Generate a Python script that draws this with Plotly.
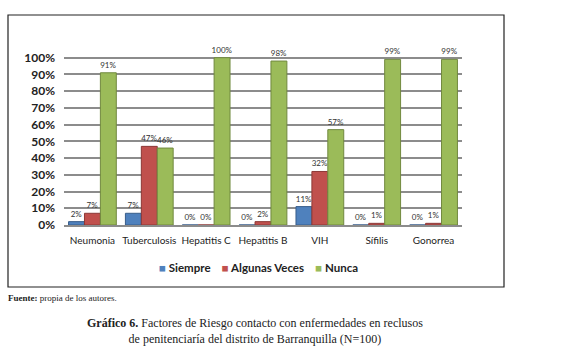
import plotly.graph_objects as go

categories = ["Neumonia", "Tuberculosis", "Hepatitis C", "Hepatitis B", "VIH", "Sífilis", "Gonorrea"]
siempre = [2, 7, 0, 0, 11, 0, 0]
algunas = [7, 47, 0, 2, 32, 1, 1]
nunca = [91, 46, 100, 98, 57, 99, 99]
tick_vals = [0, 10, 20, 30, 40, 50, 60, 70, 80, 90, 100]
tick_text = [f"{v}%" for v in tick_vals]

series = [
    ("Siempre", siempre, "#4F81BD", "#385D8A"),
    ("Algunas Veces", algunas, "#C0504D", "#8C3836"),
    ("Nunca", nunca, "#9BBB59", "#71893F"),
]

fig = go.Figure()
for name, vals, col, edge in series:
    fig.add_trace(go.Bar(
        x=categories, y=vals, name=name,
        marker=dict(color=col, line=dict(color=edge, width=1)),
        text=[f"{v}%" for v in vals], textposition="outside", constraintext="none",
        textfont=dict(size=8, color="#333333", family="Lato"),
        cliponaxis=False, showlegend=False,
    ))

W, H = 566, 355
L, R, T, B = 64, 104, 46, 130
pw = W - L - R
ph = H - T - B

def px(x):
    return (x - L) / pw

def py(y):
    return (H - B - y) / ph

fig.update_layout(
    width=W, height=H,
    margin=dict(l=L, r=R, t=T, b=B, autoexpand=False),
    paper_bgcolor="white", plot_bgcolor="white",
    barmode="group", bargap=0.16, bargroupgap=0.0,
    font=dict(family="Lato", color="#222222"),
    xaxis=dict(showgrid=False, showline=True, linecolor="#8c8c8c", linewidth=1.5,
               tickfont=dict(size=10, family="Lato", color="#222222"), ticks="",
               ticklabelstandoff=5),
    yaxis=dict(range=[0, 107], tickvals=tick_vals, ticktext=tick_text,
               showgrid=True, gridcolor="#8c8c8c", gridwidth=1.5,
               zeroline=False, showline=False,
               tickfont=dict(size=12, family="Lato", color="#222222", weight="bold"),
               ticklabelstandoff=8),
    showlegend=False,
)

legend_text = "&nbsp;&nbsp;&nbsp;&nbsp;".join(
    f"<span style='color:{col}'>■</span> {name}" for name, _, col, _ in series
)
fig.add_annotation(xref="paper", yref="paper", x=px(258), y=py(267), xanchor="center", yanchor="middle",
                   text=legend_text, showarrow=False,
                   font=dict(size=11.5, family="Lato", color="#222222", weight="bold"))

fig.add_shape(type="rect", xref="paper", yref="paper",
              x0=px(8), x1=px(504), y0=py(287), y1=py(15),
              line=dict(color="#222222", width=1.2), fillcolor="rgba(0,0,0,0)", layer="below")

fig.add_annotation(xref="paper", yref="paper", x=px(6), y=py(298), xanchor="left", yanchor="middle",
                   text="<b>Fuente:</b> propia de los autores.", showarrow=False,
                   font=dict(size=9, family="Liberation Serif", color="#222222"))
fig.add_annotation(xref="paper", yref="paper", x=px(255), y=py(331), xanchor="center", yanchor="middle",
                   text="<b>Gráfico 6.</b> Factores de Riesgo contacto con enfermedades en reclusos<br>de penitenciaría del distrito de Barranquilla (N=100)",
                   showarrow=False, align="center",
                   font=dict(size=12, family="Liberation Serif", color="#222222"))

fig.write_html("out.html", config={"displayModeBar": False},
               post_script="document.body.style.margin='0';document.body.style.overflow='hidden';")
